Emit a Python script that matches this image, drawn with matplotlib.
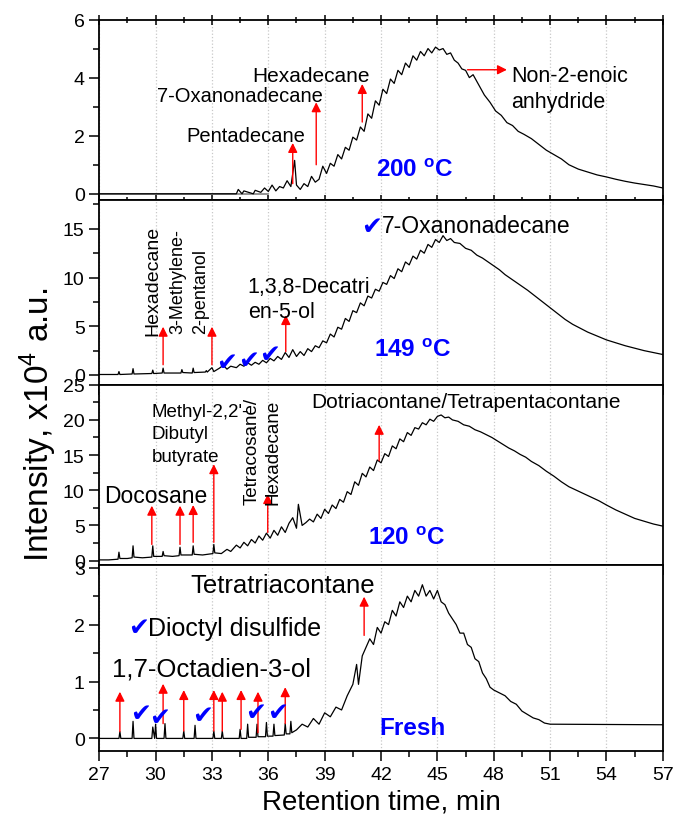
import matplotlib
matplotlib.use('Agg')
import matplotlib.pyplot as plt
from matplotlib.ticker import MultipleLocator

plt.rcParams['font.family'] = ['Liberation Sans', 'DejaVu Sans']
plt.rcParams['mathtext.fontset'] = 'custom'
plt.rcParams['mathtext.rm'] = 'Liberation Sans'
plt.rcParams['mathtext.it'] = 'Liberation Sans:italic'
plt.rcParams['mathtext.bf'] = 'Liberation Sans:bold'

# ---- 200 C ----
t_200 = [27.0, 34.3, 34.4, 34.6, 34.7, 35.2, 35.3, 35.6, 35.8, 36.0,
         36.2, 36.4, 36.6, 36.8, 37.0, 37.2, 37.4, 37.5, 37.7, 37.9,
         38.1, 38.3, 38.5, 38.7, 38.9, 39.1, 39.3, 39.5, 39.7, 39.9,
         40.1, 40.3, 40.5, 40.7, 40.9, 41.1, 41.3, 41.5, 41.7, 41.9,
         42.1, 42.3, 42.5, 42.7, 42.9, 43.1, 43.3, 43.5, 43.7, 43.9,
         44.1, 44.3, 44.5, 44.7, 44.9, 45.1, 45.3, 45.5, 45.7, 45.9,
         46.1, 46.3, 46.5, 46.7, 46.9, 47.2, 47.5, 47.8, 48.1, 48.4,
         48.7, 49.0, 49.3, 49.6, 50.0, 50.4, 50.8, 51.2, 51.6, 52.0,
         52.5, 53.0, 53.5, 54.0, 54.5, 55.0, 55.5, 56.0, 56.5, 57.0]
i_200 = [0.0, 0.0, 0.15, 0.0, 0.1, 0.0, 0.12, 0.05, 0.2, 0.08,
         0.3, 0.1, 0.25, 0.2, 0.45, 0.25, 1.15, 0.3, 0.15, 0.35,
         0.25, 0.6, 0.4, 0.5, 0.95, 0.7, 1.05, 0.95, 1.35, 1.2,
         1.6, 1.5, 1.95, 1.85, 2.3, 2.15, 2.75, 2.6, 3.2, 3.05,
         3.6, 3.45, 3.95, 3.8, 4.25, 4.1, 4.5, 4.35, 4.75, 4.6,
         4.9, 4.75, 5.0, 4.85, 5.05, 4.95, 5.0, 4.8, 4.85, 4.6,
         4.5, 4.3, 4.25, 4.0, 4.1, 3.75, 3.4, 3.15, 2.85, 2.7,
         2.45, 2.35, 2.15, 2.05, 1.9, 1.7, 1.5, 1.35, 1.2, 1.0,
         0.85, 0.75, 0.65, 0.58, 0.5, 0.43, 0.37, 0.32, 0.27, 0.2]
base_200 = [27.0, 36.0]
arr_200_x = [37.3, 38.55, 41.0]
arr_200_lo = [0.35, 1.0, 2.47]
arr_200_hi = [1.75, 3.15, 3.78]

# ---- 149 C ----
t_149 = [27.0, 28.0, 28.05, 28.1, 28.75, 28.8, 28.85, 29.8, 29.85, 29.9,
         30.35, 30.4, 30.45, 31.35, 31.4, 31.45, 31.95, 32.0, 32.05, 32.65,
         32.7, 32.75, 33.0, 33.1, 33.4, 33.6, 33.8, 34.0, 34.3, 34.5,
         34.7, 34.9, 35.1, 35.3, 35.5, 35.7, 35.9, 36.1, 36.3, 36.5,
         36.7, 36.9, 37.1, 37.3, 37.5, 37.7, 37.9, 38.1, 38.3, 38.5,
         38.7, 38.9, 39.1, 39.3, 39.5, 39.7, 39.9, 40.1, 40.3, 40.5,
         40.7, 40.9, 41.1, 41.3, 41.5, 41.7, 41.9, 42.1, 42.3, 42.5,
         42.7, 42.9, 43.1, 43.3, 43.5, 43.7, 43.9, 44.1, 44.3, 44.5,
         44.7, 44.9, 45.1, 45.3, 45.5, 45.7, 45.9, 46.2, 46.5, 46.8,
         47.1, 47.4, 47.7, 48.0, 48.3, 48.6, 48.9, 49.2, 49.5, 49.8,
         50.2, 50.6, 51.0, 51.4, 51.8, 52.2, 52.6, 53.0, 53.5, 54.0,
         54.5, 55.0, 55.5, 56.0, 56.5, 57.0]
i_149 = [0.05, 0.05, 0.35, 0.05, 0.1, 0.65, 0.1, 0.15, 0.5, 0.15,
         0.2, 0.7, 0.2, 0.2, 0.55, 0.25, 0.2, 0.7, 0.25, 0.3,
         0.45, 0.3, 0.75, 0.35, 0.7, 1.0, 0.6, 0.9, 0.75, 1.1,
         0.9, 1.25, 1.0, 1.3, 1.1, 1.5, 1.25, 1.7, 1.45, 1.9,
         1.6, 2.3, 1.8, 2.6, 1.9, 2.4, 2.0, 2.7, 2.4, 3.0,
         2.8, 3.5, 3.3, 4.2, 3.9, 4.9, 4.7, 5.8, 5.5, 6.6,
         6.4, 7.4, 7.1, 8.1, 7.9, 8.8, 8.6, 9.5, 9.3, 10.2,
         9.9, 10.9, 10.6, 11.6, 11.3, 12.2, 11.9, 12.8, 12.5, 13.4,
         13.1, 13.9, 13.6, 14.3, 13.8, 14.0, 13.6, 13.5, 13.0, 12.8,
         12.3, 12.0, 11.6, 11.2, 10.8, 10.3, 9.9, 9.5, 9.1, 8.7,
         8.1, 7.5, 6.9, 6.3, 5.7, 5.2, 4.8, 4.4, 4.0, 3.6,
         3.3, 3.0, 2.75, 2.5, 2.3, 2.1]
arr_149_x = [30.4, 33.0, 36.93]
arr_149_lo = [1.05, 1.05, 2.4]
arr_149_hi = [4.95, 4.95, 6.15]
chk_149_x = [33.8, 34.93, 36.08]
chk_149_y = [1.3, 1.55, 2.15]

# ---- 120 C ----
t_120 = [27.0, 27.5, 28.0, 28.05, 28.1, 28.5, 28.75, 28.8, 28.85, 29.3,
         29.8, 29.85, 29.9, 30.35, 30.4, 30.45, 30.9, 31.25, 31.3, 31.35,
         31.95, 32.0, 32.05, 32.5, 33.05, 33.1, 33.15, 33.5, 33.8, 34.0,
         34.3, 34.5, 34.7, 34.9, 35.1, 35.3, 35.5, 35.7, 35.9, 36.1,
         36.3, 36.5, 36.7, 36.9, 37.1, 37.3, 37.5, 37.6, 37.8, 38.0,
         38.2, 38.4, 38.6, 38.8, 39.0, 39.2, 39.4, 39.6, 39.8, 40.0,
         40.2, 40.4, 40.6, 40.8, 41.0, 41.2, 41.4, 41.6, 41.8, 42.0,
         42.2, 42.4, 42.6, 42.8, 43.0, 43.2, 43.4, 43.6, 43.8, 44.0,
         44.2, 44.4, 44.6, 44.8, 45.0, 45.2, 45.4, 45.6, 45.8, 46.1,
         46.4, 46.7, 47.0, 47.3, 47.6, 47.9, 48.2, 48.5, 48.8, 49.1,
         49.4, 49.7, 50.0, 50.4, 50.8, 51.2, 51.6, 52.0, 52.4, 52.8,
         53.2, 53.6, 54.0, 54.5, 55.0, 55.5, 56.0, 56.5, 57.0]
i_120 = [0.1, 0.1, 0.2, 1.2, 0.3, 0.3, 0.4, 2.1, 0.5, 0.4,
         0.5, 2.1, 0.6, 0.6, 1.3, 0.7, 0.6, 0.7, 1.9, 0.8,
         0.8, 2.1, 0.9, 0.8, 1.0, 2.3, 1.1, 1.0, 1.6, 1.3,
         2.2, 1.8, 2.6, 2.1, 3.0, 2.5, 3.5, 2.9, 3.9, 3.2,
         4.3, 3.6, 4.8, 4.0, 5.3, 6.1, 4.6, 8.0, 5.0, 5.4,
         5.9, 5.5, 6.6, 6.0, 7.3, 6.7, 7.9, 7.4, 8.7, 8.3,
         9.8, 9.4, 11.2, 10.7, 12.4, 11.9, 13.3, 12.8, 14.3, 13.9,
         15.2, 14.8, 16.3, 15.9, 17.3, 16.9, 18.2, 17.8, 18.9, 18.7,
         19.6, 19.3, 20.1, 19.8, 20.5, 20.7, 20.3, 20.4, 20.0, 19.8,
         19.3, 19.1, 18.6, 18.3, 17.9, 17.5, 17.0, 16.5, 16.0, 15.6,
         15.1, 14.7, 14.1, 13.5, 12.7, 12.0, 11.2, 10.5, 10.0, 9.5,
         9.0, 8.5, 7.9, 7.2, 6.6, 6.0, 5.6, 5.2, 4.9]
arr_120_x = [29.8, 31.3, 32.0, 33.1, 35.97, 41.9]
arr_120_lo = [2.3, 2.3, 2.6, 2.6, 4.0, 14.2]
arr_120_hi = [7.8, 7.8, 7.9, 13.7, 9.45, 19.3]

# ---- Fresh ----
t_fresh = [27.0, 28.05, 28.1, 28.15, 28.75, 28.8, 28.85, 29.8, 29.85, 29.95,
           30.0, 30.05, 30.45, 30.5, 30.55, 31.45, 31.5, 31.55, 32.05, 32.1,
           32.15, 33.05, 33.1, 33.15, 33.5, 33.55, 33.6, 34.45, 34.5, 34.55,
           34.85, 34.9, 34.95, 35.35, 35.4, 35.45, 35.85, 35.9, 35.95, 36.25,
           36.3, 36.35, 36.85, 36.9, 36.95, 37.15, 37.2, 37.25, 37.5, 37.8,
           38.1, 38.4, 38.7, 39.0, 39.3, 39.6, 39.9, 40.2, 40.5, 40.7,
           40.8, 41.0, 41.2, 41.4, 41.6, 41.8, 42.0, 42.2, 42.4, 42.6,
           42.8, 43.0, 43.2, 43.4, 43.6, 43.8, 44.0, 44.2, 44.4, 44.6,
           44.8, 45.0, 45.2, 45.4, 45.6, 45.8, 46.0, 46.2, 46.4, 46.6,
           46.8, 47.0, 47.2, 47.4, 47.6, 47.8, 48.0, 48.3, 48.6, 48.9,
           49.2, 49.5, 49.8, 50.1, 50.4, 50.7, 51.0, 57.0]
i_fresh = [0.0, 0.0, 0.12, 0.0, 0.0, 0.3, 0.0, 0.0, 0.2, 0.0,
           0.25, 0.0, 0.0, 0.26, 0.0, 0.0, 0.13, 0.0, 0.0, 0.23,
           0.0, 0.0, 0.13, 0.0, 0.0, 0.13, 0.0, 0.0, 0.16, 0.0,
           0.0, 0.25, 0.02, 0.02, 0.25, 0.03, 0.03, 0.28, 0.04, 0.04,
           0.25, 0.05, 0.06, 0.26, 0.08, 0.08, 0.3, 0.1, 0.15, 0.25,
           0.2, 0.35, 0.25, 0.45, 0.38, 0.55, 0.5, 0.75, 0.95, 1.3,
           0.95, 1.45, 1.6, 1.75, 1.65, 1.95, 1.85, 2.05, 2.0, 2.25,
           2.15, 2.4, 2.3, 2.5, 2.4, 2.6, 2.5, 2.7, 2.5, 2.6,
           2.45, 2.6, 2.4, 2.35, 2.2, 2.1, 2.0, 1.85, 1.85, 1.65,
           1.6, 1.4, 1.35, 1.15, 1.05, 0.9, 0.85, 0.8, 0.75, 0.65,
           0.6, 0.48, 0.42, 0.36, 0.33, 0.27, 0.25, 0.24]
arr_fresh_x = [28.1, 30.4, 31.5, 33.1, 33.55, 34.55, 35.45, 36.9, 41.1]
arr_fresh_lo = [0.12, 0.26, 0.13, 0.13, 0.13, 0.16, 0.1, 0.26, 1.81]
arr_fresh_hi = [0.82, 0.96, 0.85, 0.85, 0.82, 0.85, 0.82, 0.9, 2.49]
chk_fresh_x = [29.2, 30.2, 32.5, 35.3, 36.5]
chk_fresh_y = [0.44, 0.38, 0.41, 0.47, 0.47]

CHECK = '\u2714'


def arrows(ax, xs, lo, hi):
    for x, a, b in zip(xs, lo, hi):
        ax.annotate('', xy=(x, b), xytext=(x, a),
                    arrowprops=dict(arrowstyle='-|>', color='red', lw=1.0,
                                    mutation_scale=14, shrinkA=0, shrinkB=0))


def checks(ax, xs, ys, size=18):
    for x, y in zip(xs, ys):
        ax.text(x, y, CHECK, color='blue', fontsize=size, ha='center',
                va='center', family='DejaVu Sans')


fig, axes = plt.subplots(4, 1, figsize=(6.75, 8.2), dpi=100, sharex=True,
                         gridspec_kw={'height_ratios': [180, 185, 180, 186],
                                      'hspace': 0})
fig.subplots_adjust(left=0.147, right=0.982, top=0.975, bottom=0.083)

ylims = [(-0.2, 6), (-1, 18), (-0.6, 25), (-0.22, 3.05)]
majors = [2, 5, 5, 1]
minors = [1, 2.5, 2.5, 0.5]
traces = [(t_200, i_200), (t_149, i_149), (t_120, i_120), (t_fresh, i_fresh)]

for k, ax in enumerate(axes):
    tx, ty = traces[k]
    ax.plot(tx, ty, color='black', lw=0.9, zorder=3)
    ax.set_xlim(27, 57)
    ax.set_ylim(*ylims[k])
    ax.xaxis.set_major_locator(MultipleLocator(3))
    ax.xaxis.set_minor_locator(MultipleLocator(1.5))
    ax.yaxis.set_major_locator(MultipleLocator(majors[k]))
    ax.yaxis.set_minor_locator(MultipleLocator(minors[k]))
    ax.grid(axis='x', which='major', color='#c8c8c8', ls=':', lw=0.9)
    ax.tick_params(axis='both', which='major', direction='out', length=7,
                   width=1.1, labelsize=14)
    ax.tick_params(axis='both', which='minor', direction='out', length=4,
                   width=1.1)
    for s in ax.spines.values():
        s.set_linewidth(1.3)
    if k == 0:
        ax.tick_params(axis='x', which='both', top=True, direction='inout')

axes[0].plot(base_200, [0, 0], color='gray', lw=1.2, zorder=2)

# panel 1: 200 C
ax = axes[0]
arrows(ax, arr_200_x, arr_200_lo, arr_200_hi)
ax.annotate('', xy=(48.7, 4.27), xytext=(46.6, 4.27),
            arrowprops=dict(arrowstyle='-|>', color='red', lw=1.0,
                            mutation_scale=14, shrinkA=0, shrinkB=0))
ax.text(38.26, 4.07, 'Hexadecane', fontsize=15, ha='center', va='center')
ax.text(34.5, 3.38, '7-Oxanonadecane', fontsize=14.5, ha='center',
        va='center')
ax.text(34.8, 2.0, 'Pentadecane', fontsize=14.5, ha='center', va='center')
ax.text(48.93, 3.62, 'Non-2-enoic\nanhydride', fontsize=15.5, ha='left',
        va='center', linespacing=1.3)
ax.text(43.8, 0.81, r'$\mathbf{200\ ^{o}C}$', fontsize=17.5, color='blue',
        ha='center', va='center')

# panel 2: 149 C
ax = axes[1]
arrows(ax, arr_149_x, arr_149_lo, arr_149_hi)
checks(ax, chk_149_x, chk_149_y)
ax.text(29.84, 4.1, 'Hexadecane', fontsize=14, rotation=90, ha='center',
        va='bottom')
ax.text(31.8, 4.27, '3-Methylene-\n2-pentanol', fontsize=13, rotation=90,
        ha='center', va='bottom', multialignment='left', linespacing=1.4)
ax.text(34.9, 7.8, '1,3,8-Decatri\nen-5-ol', fontsize=15.5, ha='left',
        va='center', linespacing=1.3)
ax.text(41.5, 15.3, CHECK, color='blue', fontsize=18, ha='center',
        va='center', family='DejaVu Sans')
ax.text(42.03, 15.3, '7-Oxanonadecane', fontsize=16.5, ha='left',
        va='center')
ax.text(43.7, 2.58, r'$\mathbf{149\ ^{o}C}$', fontsize=17.5, color='blue',
        ha='center', va='center')

# panel 3: 120 C
ax = axes[2]
arrows(ax, arr_120_x, arr_120_lo, arr_120_hi)
ax.text(30.03, 9.3, 'Docosane', fontsize=16.5, ha='center', va='center')
ax.text(29.78, 18.0, "Methyl-2,2'-\nDibutyl\nbutyrate", fontsize=13.5,
        ha='left', va='center', linespacing=1.45)
ax.text(35.7, 8.0, 'Tetracosane/\nHexadecane', fontsize=13.5, rotation=90,
        ha='center', va='bottom', multialignment='left', linespacing=1.35)
ax.text(46.5, 22.6, 'Dotriacontane/Tetrapentacontane', fontsize=15,
        ha='center', va='center')
ax.text(43.38, 3.28, r'$\mathbf{120\ ^{o}C}$', fontsize=17.5, color='blue',
        ha='center', va='center')

# panel 4: fresh
ax = axes[3]
arrows(ax, arr_fresh_x, arr_fresh_lo, arr_fresh_hi)
checks(ax, chk_fresh_x, chk_fresh_y)
ax.text(36.78, 2.69, 'Tetratriacontane', fontsize=18.5, ha='center',
        va='center')
ax.text(29.1, 1.96, CHECK, color='blue', fontsize=18, ha='center',
        va='center', family='DejaVu Sans')
ax.text(29.6, 1.94, 'Dioctyl disulfide', fontsize=18, ha='left',
        va='center')
ax.text(32.95, 1.23, '1,7-Octadien-3-ol', fontsize=18.5, ha='center',
        va='center')
ax.text(43.7, 0.2, 'Fresh', fontsize=17.5, color='blue', fontweight='bold',
        ha='center', va='center')

axes[3].set_xlabel('Retention time, min', fontsize=20, labelpad=4)
fig.text(0.057, 0.482, r'Intensity, x10$^4$ a.u.', fontsize=24,
         rotation=90, ha='center', va='center')

fig.savefig('out.png', dpi=100)
